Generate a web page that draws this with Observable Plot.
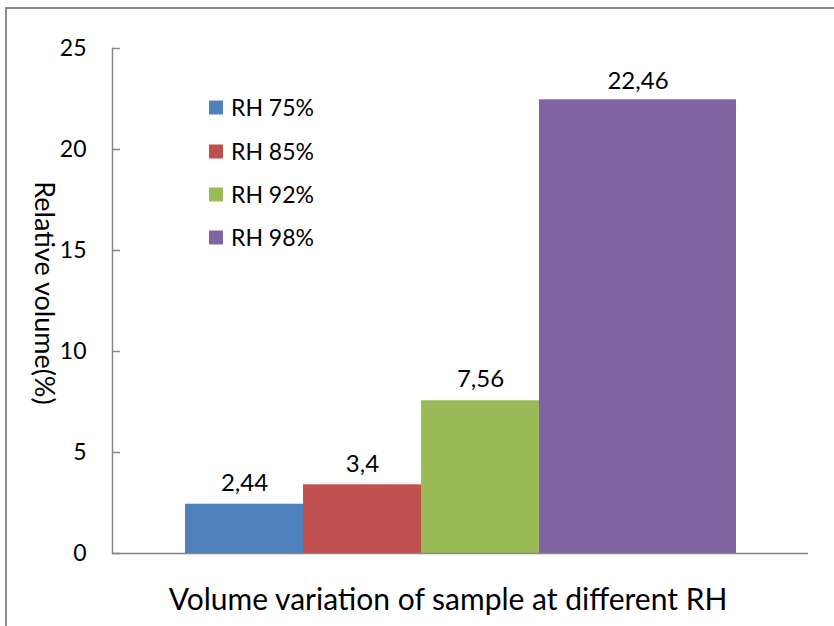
<!DOCTYPE html>
<html>
<head>
<meta charset="utf-8">
<script src="https://cdn.jsdelivr.net/npm/d3@7"></script>
<script src="https://cdn.jsdelivr.net/npm/@observablehq/plot@0.6"></script>
<style>
  body { margin: 0; background: #fff; }
  #wrap { position: relative; width: 834px; height: 626px; overflow: hidden; font-family: Lato, "Open Sans", sans-serif; color: #000; }
  #border { position: absolute; left: 5px; top: 7px; width: 900px; height: 700px; border: 2px solid #8c8c8c; box-sizing: border-box; }
  #chart { position: absolute; left: 0; top: 0; }
  .leg { position: absolute; left: 209px; font-size: 23px; line-height: 1; display: flex; align-items: center; transform: translateY(-50%); white-space: nowrap; }
  .leg span.sw { display: inline-block; width: 14px; height: 14px; margin-right: 8px; }
  #ylabel { position: absolute; left: 45px; top: 293px; transform: translate(-50%, -50%) rotate(90deg); font-size: 27px; white-space: nowrap; }
  #xlabel { position: absolute; left: 448px; top: 598px; transform: translate(-50%, -50%); font-size: 30px; white-space: nowrap; }
</style>
</head>
<body>
<div id="wrap">
  <div id="border"></div>
  <div id="chart"></div>
  <div id="ylabel"></div>
  <div id="xlabel"></div>
</div>
<script>
const categories = ["RH 75%", "RH 85%", "RH 92%", "RH 98%"];
const values = [2.44, 3.4, 7.56, 22.46];
const colors = ["#4F81BD", "#C0504D", "#9BBB59", "#8064A2"];
const yTicks = [0, 5, 10, 15, 20, 25];
const xTitle = "Volume variation of sample at different RH";
const yTitle = "Relative volume(%)";

const data = categories.map((c, i) => ({cat: c, value: values[i], label: String(values[i]).replace(".", ",")}));
const narrow = data.slice(0, 3);
const wide = data.slice(3);

const axisColor = "#868686";
const plot = Plot.plot({
  width: 834,
  height: 626,
  marginLeft: 112,
  marginRight: 26,
  marginTop: 48,
  marginBottom: 73,
  style: {fontFamily: "Lato, 'Open Sans', sans-serif", color: "#000", background: "transparent"},
  x: {domain: categories, range: [185, 657], padding: 0, axis: null},
  y: {domain: [0, 25], axis: null},
  color: {domain: categories, range: colors},
  marks: [
    Plot.barY(narrow, {x: "cat", y: "value", fill: "cat"}),
    Plot.barY(wide, {x: "cat", y: "value", fill: "cat", insetRight: -79}),
    Plot.frame({anchor: "left", stroke: axisColor, strokeWidth: 1.5}),
    Plot.ruleY([0], {stroke: axisColor, strokeWidth: 1.5}),
    Plot.tickY(yTicks, {y: d => d, insetRight: 688, stroke: axisColor, strokeWidth: 1.5}),
    Plot.axisY({ticks: yTicks, tickSize: 0, tickPadding: 26, fontSize: 23, label: null, tickFormat: d => String(d)}),
    Plot.text(narrow, {x: "cat", y: "value", text: "label", dy: -21, fontSize: 24}),
    Plot.text(wide, {x: "cat", y: "value", text: "label", dy: -18, dx: 39.5, fontSize: 24})
  ]
});
document.getElementById("chart").appendChild(plot);

document.getElementById("ylabel").textContent = yTitle;
document.getElementById("xlabel").textContent = xTitle;

const legY = [107, 151, 194, 237];
const wrap = document.getElementById("wrap");
categories.forEach((c, i) => {
  const d = document.createElement("div");
  d.className = "leg";
  d.style.top = legY[i] + "px";
  const sw = document.createElement("span");
  sw.className = "sw";
  sw.style.background = colors[i];
  d.appendChild(sw);
  d.appendChild(document.createTextNode(c));
  wrap.appendChild(d);
});
</script>
</body>
</html>
